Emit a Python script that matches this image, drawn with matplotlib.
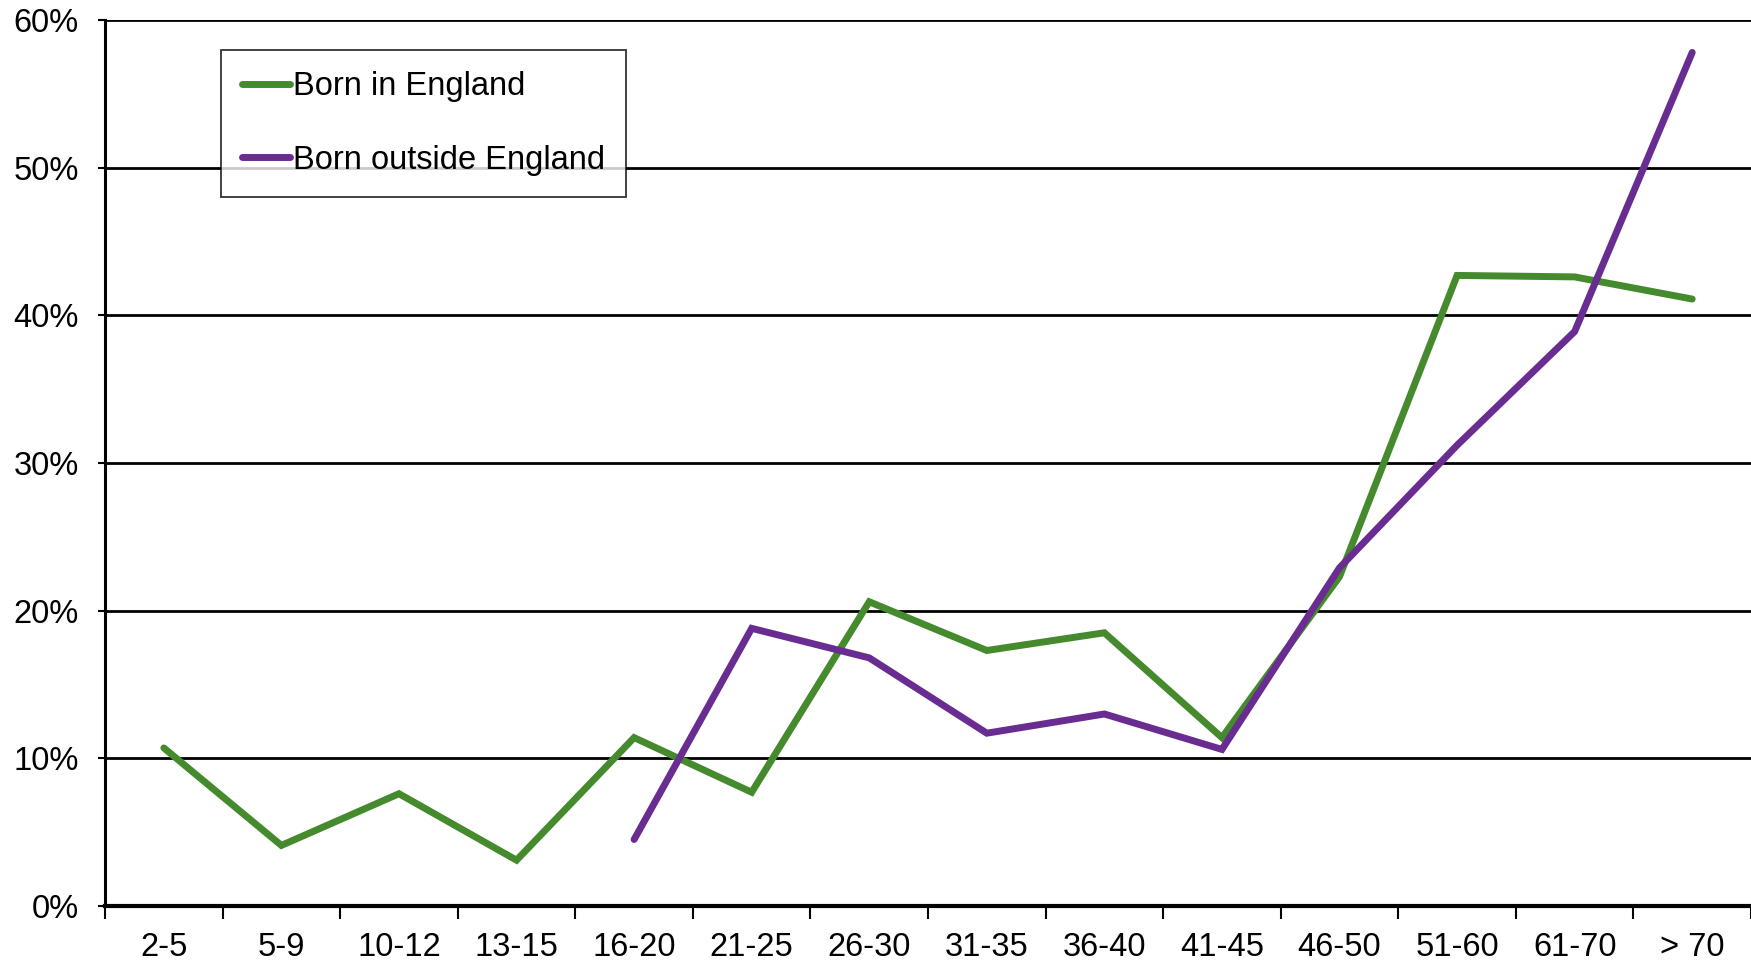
import matplotlib
matplotlib.use("Agg")
import matplotlib.pyplot as plt
import numpy as np
from matplotlib.ticker import FixedLocator, PercentFormatter

# Age bands and share (%) for each birthplace group
age_bands = ["2-5", "5-9", "10-12", "13-15", "16-20", "21-25", "26-30",
             "31-35", "36-40", "41-45", "46-50", "51-60", "61-70", "> 70"]
born_in_england = [10.7, 4.1, 7.6, 3.1, 11.4, 7.7, 20.6,
                   17.3, 18.5, 11.4, 22.3, 42.7, 42.6, 41.1]
# no data for the youngest four bands
born_outside_england = [np.nan, np.nan, np.nan, np.nan, 4.5, 18.8, 16.8,
                        11.7, 13.0, 10.6, 22.9, 31.2, 38.9, 57.8]
y_ticks = [0, 10, 20, 30, 40, 50, 60]

GREEN = "#458B2E"
PURPLE = "#692C91"
FS = 23.5

plt.rcParams["font.family"] = ["Liberation Sans", "DejaVu Sans"]

fig = plt.figure(figsize=(17.51, 9.6), dpi=100)
ax = fig.add_axes([0.06, 0.0563, 0.94, 0.9229])

x = np.arange(len(age_bands))

for gy in y_ticks[1:]:
    ax.axhline(gy, color="black", linewidth=2.0, zorder=1)

ax.plot(x, born_in_england, color=GREEN, linewidth=5,
        solid_capstyle="round", solid_joinstyle="miter",
        label="Born in England", zorder=3)
ax.plot(x, born_outside_england, color=PURPLE, linewidth=5,
        solid_capstyle="round", solid_joinstyle="miter",
        label="Born outside England", zorder=3)

ax.set_xlim(-0.5, len(age_bands) - 0.5)
ax.set_ylim(0, 60)

ax.set_xticks(x)
ax.set_xticklabels(age_bands)
ax.xaxis.set_minor_locator(FixedLocator(np.arange(-0.5, len(age_bands), 1.0)))
ax.tick_params(axis="x", which="major", length=0, pad=19, labelsize=FS)
ax.tick_params(axis="x", which="minor", length=9, width=1.5, color="black")

ax.set_yticks(y_ticks)
ax.yaxis.set_major_formatter(PercentFormatter(decimals=0))
ax.tick_params(axis="y", length=5, width=1.5, pad=14, labelsize=FS)

for side in ("top", "right"):
    ax.spines[side].set_visible(False)
ax.spines["left"].set_linewidth(2.2)
ax.spines["bottom"].set_linewidth(3.0)

leg = ax.legend(loc="upper left", bbox_to_anchor=(0.0705, 0.966),
                fontsize=FS, frameon=True, fancybox=False,
                handlelength=1.45, handletextpad=0.1, labelspacing=1.3,
                borderpad=0.65, borderaxespad=0)
leg.get_frame().set_edgecolor("black")
leg.get_frame().set_linewidth(1.3)

fig.savefig("out.png", dpi=100)
plt.close(fig)
